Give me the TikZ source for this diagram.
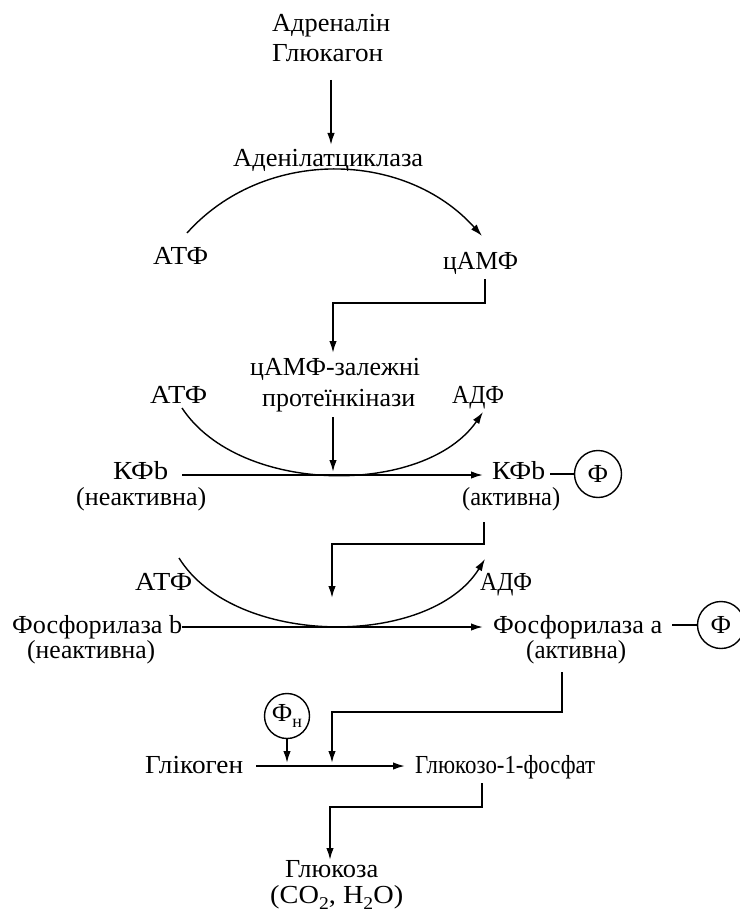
\documentclass[tikz,border=0pt]{standalone}
\usepackage{fontspec}
\usepackage{graphicx}
\setmainfont{Liberation Serif}
\usetikzlibrary{arrows.meta}
\newcommand{\lowsub}[1]{\raisebox{-6pt}{\fontsize{18}{18}\selectfont #1}}
\newcommand{\fitw}[2]{\resizebox{#1pt}{\height}{#2}}
\begin{document}
\begin{tikzpicture}[x=1pt,y=-1pt,
  txt/.style={font=\fontsize{26}{28}\selectfont, inner sep=0pt, anchor=base west},
  arr/.style={line width=1.8pt, -{Latex[length=12pt,width=7.5pt]}},
  ln/.style={line width=1.8pt},
  crv/.style={line width=1.4pt, -{Latex[length=12pt,width=7.5pt]}},
  phi/.style={circle, draw, line width=1.4pt, minimum size=47pt, inner sep=0pt, font=\fontsize{26}{28}\selectfont}]
\useasboundingbox (0,0) rectangle (739,917);
% text nodes (base west anchor, widths fitted)
\node[txt] (adr) at (272,32) {\fitw{118}{Адреналін}};
\node[txt] (glk) at (272,62) {\fitw{111}{Глюкагон}};
\node[txt] (aden) at (233,167) {\fitw{190}{Аденілатциклаза}};
\node[txt] (atf1) at (153,264) {\fitw{55}{АТФ}};
\node[txt] (camp) at (443,269) {\fitw{75}{цАМФ}};
\node[txt] (pk1) at (250,375) {\fitw{170}{цАМФ-залежні}};
\node[txt] (pk2) at (262,406) {\fitw{153}{протеїнкінази}};
\node[txt] (atf2) at (150,403) {\fitw{57}{АТФ}};
\node[txt] (adp2) at (452,403) {\fitw{52}{АДФ}};
\node[txt] (kfb1) at (113,479) {\fitw{55}{КФb}};
\node[txt] (kfb1s) at (76,505) {\fitw{130}{(неактивна)}};
\node[txt] (kfb2) at (492,479) {\fitw{53}{КФb}};
\node[txt] (kfb2s) at (462,505) {\fitw{98}{(активна)}};
\node[phi] (phi1) at (598,474) {Ф};
\node[txt] (atf3) at (135,590) {\fitw{57}{АТФ}};
\node[txt] (adp3) at (480,590) {\fitw{52}{АДФ}};
\node[txt] (phb) at (12,633) {\fitw{170}{Фосфорилаза b}};
\node[txt] (phbs) at (27,658) {\fitw{128}{(неактивна)}};
\node[txt] (pha) at (493,633) {\fitw{169}{Фосфорилаза a}};
\node[txt] (phas) at (526,658) {\fitw{100}{(активна)}};
\node[phi] (phi2) at (721,625) {Ф};
\node[phi, minimum size=45pt] (phin) at (287,716) {Ф\lowsub{н}};
\node[txt] (glycogen) at (145,773) {\fitw{98}{Глікоген}};
\node[txt] (g1p) at (415,773) {\fitw{180}{Глюкозо-1-фосфат}};
\node[txt] (glucose) at (285,877) {\fitw{93}{Глюкоза}};
\node[txt] (co2) at (270,903) {\fitw{133}{(CO\lowsub{2}, H\lowsub{2}O)}};
% coordinates
\coordinate (c1a) at (331,80);  \coordinate (c1b) at (331,145);
\coordinate (a1s) at (187,233); \coordinate (a1e) at (482,236);
\coordinate (c2a) at (485,279); \coordinate (c2b) at (485,303);
\coordinate (c2c) at (333,303); \coordinate (c2d) at (333,353);
\coordinate (c3a) at (333,417); \coordinate (c3b) at (333,472);
\coordinate (a2s) at (182,408); \coordinate (a2e) at (483,412);
\coordinate (h1s) at (182,475); \coordinate (h1e) at (483,475);
\coordinate (p1a) at (550,474);
\coordinate (c4a) at (484,522); \coordinate (c4b) at (484,544);
\coordinate (c4c) at (332,544); \coordinate (c4d) at (332,598);
\coordinate (a3s) at (179,558); \coordinate (a3e) at (485,559);
\coordinate (h2s) at (182,627); \coordinate (h2e) at (483,627);
\coordinate (p2a) at (672,625);
\coordinate (c5a) at (562,672); \coordinate (c5b) at (562,712);
\coordinate (c5c) at (332,712); \coordinate (c5d) at (332,763);
\coordinate (c6b) at (287,763);
\coordinate (h3s) at (256,766); \coordinate (h3e) at (405,766);
\coordinate (c7a) at (482,783); \coordinate (c7b) at (482,807);
\coordinate (c7c) at (330,807); \coordinate (c7d) at (330,860);
% connectors
\draw[arr] (c1a) -- (c1b);
\draw[crv] (a1s) .. controls (264,147) and (405,150) .. (a1e);
\draw[arr] (c2a) -- (c2b) -- (c2c) -- (c2d);
\draw[arr] (c3a) -- (c3b);
\draw[crv] (a2s) .. controls (240,496) and (425,496) .. (a2e);
\draw[arr] (h1s) -- (h1e);
\draw[ln] (p1a) -- (phi1.west);
\draw[arr] (c4a) -- (c4b) -- (c4c) -- (c4d);
\draw[crv] (a3s) .. controls (235,648) and (430,648) .. (a3e);
\draw[arr] (h2s) -- (h2e);
\draw[ln] (p2a) -- (phi2.west);
\draw[arr] (c5a) -- (c5b) -- (c5c) -- (c5d);
\draw[arr] (phin.south) -- (c6b);
\draw[arr] (h3s) -- (h3e);
\draw[arr] (c7a) -- (c7b) -- (c7c) -- (c7d);
\end{tikzpicture}
\end{document}
